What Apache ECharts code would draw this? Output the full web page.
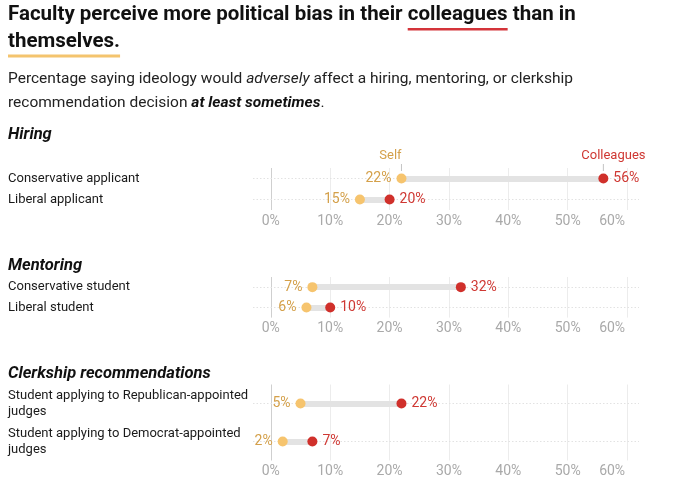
<!DOCTYPE html>
<html>
<head>
<meta charset="utf-8">
<script src="https://cdn.jsdelivr.net/npm/echarts@6/dist/echarts.min.js"></script>
<style>
  html, body { margin: 0; padding: 0; background: #fff; }
  #chart { width: 680px; height: 499px; }
</style>
</head>
<body>
<div id="chart"></div>
<script>
// data
const hiringCats = ['Conservative applicant', 'Liberal applicant'];
const hiringSelf = [22, 15];
const hiringColleagues = [56, 20];

const mentoringCats = ['Conservative student', 'Liberal student'];
const mentoringSelf = [7, 6];
const mentoringColleagues = [32, 10];

const clerkCats = ['Student applying to Republican-appointed judges', 'Student applying to Democrat-appointed judges'];
const clerkSelf = [5, 2];
const clerkColleagues = [22, 7];

const tickValues = [0, 10, 20, 30, 40, 50, 60];

const FONT = 'Roboto, "Noto Sans", sans-serif';
const SELF = '#f6c46e', SELF_TXT = '#d4a04a';
const COLL = '#d0302b', COLL_TXT = '#cf3833';

let chart = echarts.init(document.getElementById('chart'));

// measure text for the title underlines
const ctx = document.createElement('canvas').getContext('2d');
function tw(txt, font) { ctx.font = font; return ctx.measureText(txt).width; }

const titleFont = 'bold 20.5px ' + FONT;
const t1a = 'Faculty perceive more political bias in their ';
const t1b = 'colleagues';
const t1c = ' than in';
const t2 = 'themselves.';

// panel rows: top and height of each grid
const panels = [
    { cats: hiringCats, self: hiringSelf, coll: hiringColleagues, top: 168, height: 42 },
    { cats: mentoringCats, self: mentoringSelf, coll: mentoringColleagues, top: 277, height: 40.6 },
    { cats: clerkCats, self: clerkSelf, coll: clerkColleagues, top: 384.5, height: 76 }
];

let grids = [], xAxes = [], yAxes = [], series = [];
panels.forEach(function (p, k) {
    grids.push({ left: 253, right: 41, top: p.top, height: p.height });
    xAxes.push({
        type: 'value', gridIndex: k, min: -3, max: 62,
        axisLine: { show: false }, axisTick: { show: false, customValues: tickValues },
        axisLabel: {
            customValues: tickValues, margin: 4, color: '#a9a9a9', fontSize: 14, fontFamily: FONT,
            formatter: function (v) { return v === 60 ? '{last|60%}' : v + '%'; },
            rich: { last: { padding: [0, 30, 0, 0], color: '#a9a9a9', fontSize: 14, fontFamily: FONT } }
        },
        splitLine: { show: true, lineStyle: { color: ['#cfcfcf', '#ececec', '#ececec', '#ececec', '#ececec', '#ececec', '#ececec'], width: 1 } }
    });
    yAxes.push({
        type: 'category', gridIndex: k, data: p.cats, inverse: true,
        axisLine: { show: false, onZero: false }, splitLine: { show: false },
        // dotted guide per row, drawn as long inside ticks
        axisTick: { show: true, inside: true, length: 386, alignWithLabel: true,
            lineStyle: { color: '#e2e2e2', type: [1.5, 2], width: 1 } },
        axisLabel: {
            align: 'left', margin: 245, color: '#1a1a1a', fontSize: 13, fontFamily: FONT,
            width: 250, overflow: 'break', lineHeight: 16
        }
    });
    // grey connector between self and colleagues
    series.push({
        type: 'lines', coordinateSystem: 'cartesian2d', xAxisIndex: k, yAxisIndex: k,
        silent: true, symbol: 'none',
        lineStyle: { color: '#e3e3e3', width: 6, opacity: 1, curveness: 0 },
        data: p.cats.map(function (c, i) { return { coords: [[p.self[i], i], [p.coll[i], i]] }; }),
        z: 1
    });
    series.push({
        name: 'Self', type: 'scatter', xAxisIndex: k, yAxisIndex: k, symbolSize: 10,
        itemStyle: { color: SELF, opacity: 1 },
        data: p.self.map(function (v, i) { return [v, i]; }),
        label: { show: true, position: 'left', distance: 5, color: SELF_TXT, fontSize: 14, fontFamily: FONT,
            formatter: function (d) { return d.value[0] + '%'; } },
        markPoint: k === 0 ? {
            silent: true, symbol: 'rect', symbolSize: [1, 7], symbolOffset: [0, -11],
            itemStyle: { color: '#c4c4c4' },
            label: { show: true, position: 'top', distance: 2, offset: [-11, 0], formatter: 'Self',
                color: SELF_TXT, fontSize: 13, fontFamily: FONT },
            data: [{ coord: [p.self[0], 0] }]
        } : undefined,
        z: 3
    });
    series.push({
        name: 'Colleagues', type: 'scatter', xAxisIndex: k, yAxisIndex: k, symbolSize: 10,
        itemStyle: { color: COLL, opacity: 1 },
        data: p.coll.map(function (v, i) { return [v, i]; }),
        label: { show: true, position: 'right', distance: 5, color: COLL_TXT, fontSize: 14, fontFamily: FONT,
            formatter: function (d) { return d.value[0] + '%'; } },
        markPoint: k === 0 ? {
            silent: true, symbol: 'rect', symbolSize: [1, 7], symbolOffset: [0, -11],
            itemStyle: { color: '#c4c4c4' },
            label: { show: true, position: 'top', distance: 2, offset: [10, 0], formatter: 'Colleagues',
                color: COLL_TXT, fontSize: 13, fontFamily: FONT },
            data: [{ coord: [p.coll[0], 0] }]
        } : undefined,
        z: 3
    });
});

const x1 = 8 + tw(t1a, titleFont);
const wCol = tw(t1b, titleFont);
const wThem = tw(t2, titleFont);
const headFont = 'italic bold 16.5px ' + FONT;

const graphic = [
    { type: 'text', left: 8, top: 4, style: { text: t1a + t1b + t1c, font: titleFont, fill: '#111' } },
    { type: 'text', left: 8, top: 31, style: { text: t2, font: titleFont, fill: '#111' } },
    { type: 'rect', shape: { x: x1, y: 28, width: wCol, height: 2.5 }, style: { fill: '#d4343a' } },
    { type: 'rect', shape: { x: 8, y: 54.5, width: wThem, height: 3 }, style: { fill: '#f4c46e' } },
    { type: 'text', left: 8, top: 71, style: {
        text: '{n|Percentage saying ideology would }{i|adversely}{n| affect a hiring, mentoring, or clerkship}\n{n|recommendation decision }{b|at least sometimes}{n|.}',
        rich: {
            n: { font: '15.5px ' + FONT, fill: '#222', lineHeight: 24 },
            i: { font: 'italic 15.5px ' + FONT, fill: '#222', lineHeight: 24 },
            b: { font: 'italic bold 15.5px ' + FONT, fill: '#111', lineHeight: 24 }
        } } },
    { type: 'text', left: 8, top: 126, style: { text: 'Hiring', font: headFont, fill: '#111' } },
    { type: 'text', left: 8, top: 257, style: { text: 'Mentoring', font: headFont, fill: '#111' } },
    { type: 'text', left: 8, top: 365, style: { text: 'Clerkship recommendations', font: headFont, fill: '#111' } }
];

let option = {
    animation: false,
    backgroundColor: '#fff',
    textStyle: { fontFamily: FONT },
    grid: grids,
    xAxis: xAxes,
    yAxis: yAxes,
    series: series,
    graphic: graphic
};
chart.setOption(option);
</script>
</body>
</html>
